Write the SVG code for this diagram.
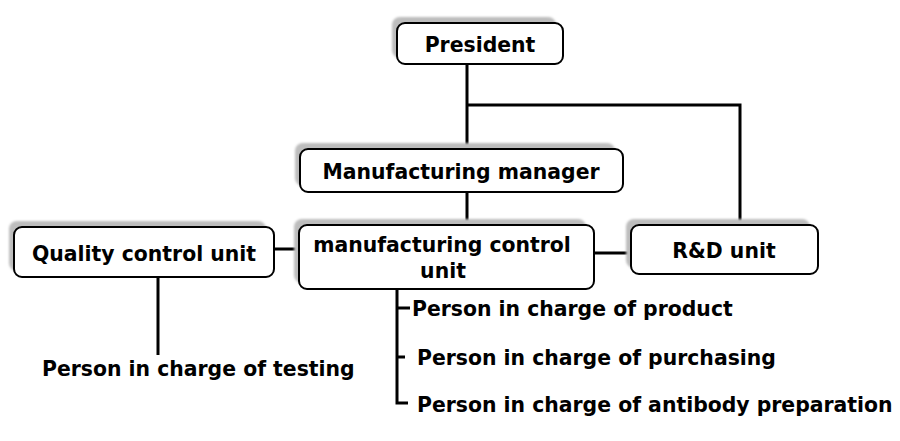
<svg xmlns="http://www.w3.org/2000/svg" width="900" height="441" viewBox="0 0 900 441">
<defs>
<filter id="blur" x="-10%" y="-30%" width="120%" height="160%"><feGaussianBlur stdDeviation="1.3"/></filter>
</defs>
<style>
.box{fill:#fff;stroke:#000;stroke-width:2}
.sh{fill:#bdbdbd;filter:url(#blur)}
.t{font-family:"DejaVu Sans",sans-serif;font-weight:bold;font-size:20.4px;fill:#000}
.c{text-anchor:middle}
.ln{stroke:#000;stroke-width:3;fill:none}
</style>
<rect width="900" height="441" fill="#fff"/>
<g id="connectors">
<path class="ln" d="M467 64V149M467 105H740V225M467 192V225M274 249H299M594 253H631M158 277V355"/>
<path class="ln" d="M397 289V403H408M396 308H410M396 357H405"/>
</g>
<g id="president">
<rect class="sh" x="392" y="17" width="164" height="41" rx="8"/>
<rect class="box" x="397" y="23" width="166" height="41" rx="8"/>
<text class="t c" x="480" y="52">President</text>
</g>
<g id="manufacturing-manager">
<rect class="sh" x="295" y="143" width="320" height="43" rx="8"/>
<rect class="box" x="300" y="149" width="323" height="43" rx="8"/>
<text class="t c" x="461" y="179">Manufacturing manager</text>
</g>
<g id="manufacturing-control-unit">
<rect class="sh" x="294" y="219" width="292" height="64" rx="8"/>
<rect class="box" x="299" y="225" width="295" height="64" rx="8"/>
<text class="t c" x="442" y="252">manufacturing control</text>
<text class="t c" x="443" y="278">unit</text>
</g>
<g id="quality-control-unit">
<rect class="sh" x="9" y="221" width="257" height="50" rx="8"/>
<rect class="box" x="14" y="227" width="260" height="50" rx="8"/>
<text class="t c" x="144" y="261">Quality control unit</text>
</g>
<g id="rd-unit">
<rect class="sh" x="626" y="219" width="184" height="49" rx="8"/>
<rect class="box" x="631" y="225" width="187" height="49" rx="8"/>
<text class="t c" x="724" y="258">R&amp;D unit</text>
</g>
<g id="person-testing"><text class="t" x="42" y="376">Person in charge of testing</text></g>
<g id="person-product"><text class="t" x="412" y="316">Person in charge of product</text></g>
<g id="person-purchasing"><text class="t" x="417" y="365">Person in charge of purchasing</text></g>
<g id="person-antibody"><text class="t" x="417" y="412">Person in charge of antibody preparation</text></g>
</svg>
